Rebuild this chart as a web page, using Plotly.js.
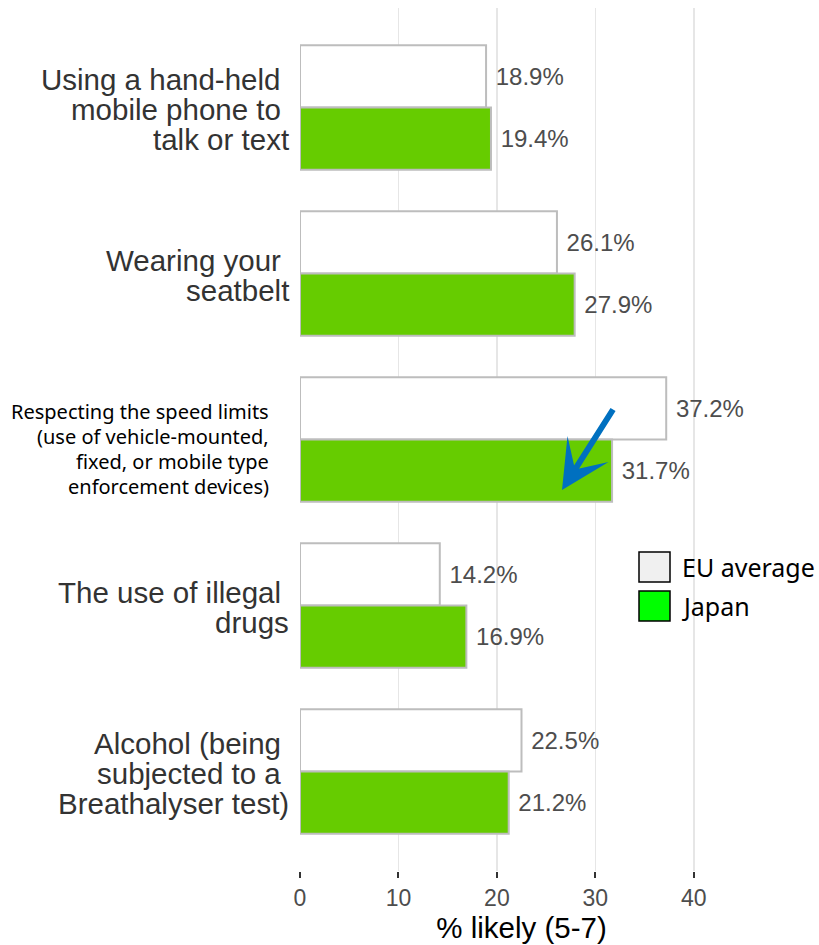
<!DOCTYPE html>
<html><head><meta charset="utf-8">
<script src="https://cdn.plot.ly/plotly-3.0.1.min.js"></script>
<style>html,body{margin:0;padding:0;background:#fff}#chart{width:819px;height:945px}</style>
</head><body><div id="chart"></div>
<script>
const categories = ["Mobile phone","Seatbelt","Speed limits","Illegal drugs","Alcohol"];
const categoryLines = [
  ["Using a hand-held\u00a0","mobile phone to\u00a0","talk or text"],
  ["Wearing your\u00a0","seatbelt"],
  ["Respecting the speed limits","(use of vehicle-mounted,","fixed, or mobile type","enforcement devices)"],
  ["The use of illegal\u00a0","drugs"],
  ["Alcohol (being\u00a0","subjected to a\u00a0","Breathalyser test)"]
];
const euAverage = [18.9,26.1,37.2,14.2,22.5];
const japan = [19.4,27.9,31.7,16.9,21.2];
const seriesNames = ["EU average","Japan"];
const xTicks = [0,10,20,30,40];
const xTitle = "% likely (5-7)";

const W = 819, H = 945;
const M = {l:300, r:76, t:8, b:74};
const pw = W - M.l - M.r, ph = H - M.t - M.b;
const px2x = p => (p - M.l) / pw;
const py2y = p => (H - M.b - p) / ph;

const barText = v => v.map(d => "\u00a0" + d.toFixed(1) + "%");
const valFont = {family:"Liberation Sans, Arial, sans-serif", size:24, color:"#4d4d4d"};
const traces = [
  {type:"bar", orientation:"h", name:seriesNames[0], y:categories, x:euAverage,
   marker:{color:"#ffffff", line:{color:"#bdbdbd", width:2}},
   text:barText(euAverage), textposition:"outside", cliponaxis:false, textfont:valFont},
  {type:"bar", orientation:"h", name:seriesNames[1], y:categories, x:japan,
   marker:{color:"#66cc00", line:{color:"#bdbdbd", width:2}},
   text:barText(japan), textposition:"outside", cliponaxis:false, textfont:valFont}
];

const annotations = [];
categoryLines.forEach((lines, i) => {
  const special = (i === 2);
  const s = special ? 25 : 30;
  const c = special ? 9 : 2;
  const n = lines.length;
  lines.forEach((ln, j) => {
    annotations.push({
      xref:"paper", yref:"y", x:0, y:categories[i], xanchor:"right", yanchor:"middle",
      xshift: special ? -29 : -9, yshift:-(c + (j - (n-1)/2) * s), showarrow:false, text:ln,
      font: special ? {family:"Noto Sans, Open Sans, sans-serif", size:20, color:"#000000"}
                    : {family:"Liberation Sans, Arial, sans-serif", size:29.5, color:"#333333"}
    });
  });
});

// legend overlay
const legendColors = ["#f0f0f0","#00ff00"];
const legendTops = [552, 591];
const shapes = [];
seriesNames.forEach((nm, k) => {
  shapes.push({type:"rect", xref:"paper", yref:"paper",
    x0:px2x(639), x1:px2x(670), y0:py2y(legendTops[k]+30), y1:py2y(legendTops[k]),
    fillcolor:legendColors[k], line:{color:"#000000", width:1.5}});
  annotations.push({xref:"paper", yref:"paper", x:px2x(680), y:py2y(legendTops[k]+15),
    xanchor:"left", yanchor:"middle", showarrow:false, text:nm,
    font:{family:"Noto Sans, Open Sans, sans-serif", size:25, color:"#000000"}});
});

// blue arrow
annotations.push({xref:"paper", yref:"paper", x:px2x(562), y:py2y(490), text:"",
  showarrow:true, arrowhead:3, arrowwidth:6, arrowsize:1.35, arrowcolor:"#0070c0",
  ax:52, ay:-82, standoff:0});

const layout = {
  width:W, height:H, margin:M, paper_bgcolor:"#ffffff", plot_bgcolor:"#ffffff",
  showlegend:false, barmode:"group", bargap:0.25, bargroupgap:0,
  xaxis:{range:[0,45], tickvals:xTicks, ticktext:xTicks.map(String), showgrid:true,
    gridcolor:"#e6e6e6", gridwidth:1.5, zeroline:false, showline:false,
    ticks:"outside", ticklen:6, tickwidth:2, tickcolor:"#333333",
    tickfont:{family:"Liberation Sans, Arial, sans-serif", size:23, color:"#4d4d4d"},
    title:{text:xTitle, font:{family:"Liberation Sans, Arial, sans-serif", size:29.5, color:"#000000"}, standoff:6},
    fixedrange:true},
  yaxis:{type:"category", categoryarray:categories, categoryorder:"array", range:[4.6,-0.6],
    showticklabels:false, showgrid:false, zeroline:false, showline:false, ticks:"", fixedrange:true},
  annotations:annotations, shapes:shapes
};
Plotly.newPlot("chart", traces, layout, {staticPlot:true, displayModeBar:false});
</script></body></html>
